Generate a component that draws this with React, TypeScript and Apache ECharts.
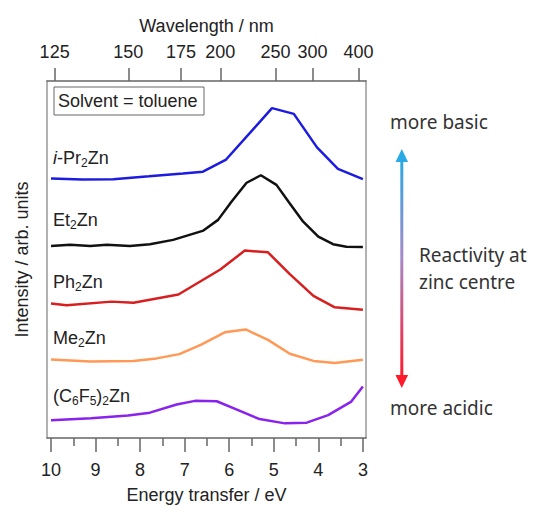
import React, { useEffect, useRef } from "react";
import * as echarts from "echarts";

const HC = 1239.84;
const energyTicks = [3, 4, 5, 6, 7, 8, 9, 10];
const energyMinorTicks = [3.5, 4.5, 5.5, 6.5, 7.5, 8.5, 9.5];
const wavelengthTicks = [125, 150, 175, 200, 250, 300, 400];

// i-Pr2Zn
const iPrE = [10.0, 9.3, 8.6, 7.8, 7.04, 6.59, 6.07, 5.04, 4.55, 4.03, 3.56, 3.0];
const iPrI = [7.27, 7.24, 7.25, 7.33, 7.41, 7.46, 7.8, 9.24, 9.08, 8.14, 7.54, 7.25];
// Et2Zn
const etE = [10.0, 9.57, 9.12, 8.75, 8.23, 7.78, 7.26, 6.58, 6.25, 5.95, 5.61, 5.29, 4.94, 4.64, 4.34, 4.0, 3.67, 3.37, 3.0];
const etI = [5.38, 5.41, 5.38, 5.41, 5.38, 5.43, 5.55, 5.81, 6.11, 6.62, 7.15, 7.36, 7.09, 6.57, 6.06, 5.64, 5.43, 5.36, 5.35];
// Ph2Zn
const phE = [10.0, 9.65, 8.64, 8.15, 7.14, 6.2, 5.65, 5.13, 4.64, 4.11, 3.63, 3.0];
const phI = [3.77, 3.72, 3.82, 3.79, 4.02, 4.72, 5.25, 5.2, 4.59, 3.98, 3.66, 3.59];
// Me2Zn
const meE = [10.0, 9.12, 8.15, 7.63, 7.12, 6.64, 6.1, 5.63, 5.13, 4.64, 4.11, 3.63, 3.0];
const meI = [2.2, 2.14, 2.16, 2.23, 2.35, 2.61, 2.96, 3.04, 2.75, 2.36, 2.16, 2.1, 2.19];
// (C6F5)2Zn
const cfE = [10.0, 9.1, 8.27, 7.78, 7.18, 6.77, 6.28, 5.8, 5.32, 4.75, 4.26, 3.78, 3.26, 3.0];
const cfI = [0.5, 0.55, 0.63, 0.71, 0.94, 1.04, 1.03, 0.78, 0.53, 0.41, 0.43, 0.64, 1.02, 1.44];

const seriesNames = ["i-Pr2Zn", "Et2Zn", "Ph2Zn", "Me2Zn", "(C6F5)2Zn"];
const seriesLabels = [
  "{it|i}-Pr{sub|2}Zn",
  "Et{sub|2}Zn",
  "Ph{sub|2}Zn",
  "Me{sub|2}Zn",
  "(C{sub|6}F{sub|5}){sub|2}Zn",
];
const seriesColors = ["#1c1ce0", "#111111", "#d81e1e", "#ff9955", "#8a22ee"];
const seriesE = [iPrE, etE, phE, meE, cfE];
const seriesI = [iPrI, etI, phI, meI, cfI];

const FONT = "'Liberation Sans', Arial, Helvetica, sans-serif";
const FONT2 = "'Noto Sans', 'Open Sans', sans-serif";

export default function App() {
  const ref = useRef<HTMLDivElement>(null);

  useEffect(() => {
    if (!ref.current) return;
    const chart = echarts.init(ref.current, undefined, { renderer: "svg" });

    const axisGray = "#666";
    const frameGray = "#999";
    const xRange = { min: 2.93, max: 10.09, inverse: true };

    const labelY = [158, 220, 282, 338, 396];

    const option: any = {
      animation: false,
      backgroundColor: "#fff",
      grid: { left: 47, top: 81, width: 319, height: 357, containLabel: false, outerBoundsMode: "none" },
      xAxis: [
        {
          type: "value",
          position: "bottom",
          ...xRange,
          axisLine: { show: true, onZero: false, lineStyle: { color: axisGray, width: 1.5 } },
          axisTick: { show: true, length: 14, customValues: energyTicks, lineStyle: { color: axisGray, width: 1.5 } },
          axisLabel: {
            customValues: energyTicks,
            margin: 23,
            fontSize: 18,
            color: "#222",
            fontFamily: FONT,
            formatter: (v: number) => String(Math.round(v)),
          },
          splitLine: { show: false },
          name: "Energy transfer / eV",
          nameLocation: "middle",
          nameGap: 48,
          nameTextStyle: { fontSize: 18, color: "#222", fontFamily: FONT },
        },
        {
          type: "value",
          position: "bottom",
          ...xRange,
          axisLine: { show: false, onZero: false },
          axisTick: { show: true, length: 8, customValues: energyMinorTicks, lineStyle: { color: axisGray, width: 1.5 } },
          axisLabel: { show: false },
          splitLine: { show: false },
        },
        {
          type: "value",
          position: "top",
          ...xRange,
          axisLine: { show: true, onZero: false, lineStyle: { color: axisGray, width: 1.5 } },
          axisTick: {
            show: true,
            length: 13,
            customValues: wavelengthTicks.map((w) => HC / w),
            lineStyle: { color: axisGray, width: 1.5 },
          },
          axisLabel: {
            customValues: wavelengthTicks.map((w) => HC / w),
            margin: 20,
            fontSize: 18,
            color: "#222",
            fontFamily: FONT,
            formatter: (v: number) => String(Math.round(HC / v)),
          },
          splitLine: { show: false },
          name: "Wavelength / nm",
          nameLocation: "middle",
          nameGap: 46,
          nameTextStyle: { fontSize: 18, color: "#222", fontFamily: FONT },
        },
      ],
      yAxis: [
        {
          type: "value",
          position: "left",
          min: 0,
          max: 10,
          axisLine: { show: true, onZero: false, lineStyle: { color: frameGray, width: 1.5 } },
          axisTick: { show: false },
          axisLabel: { show: false },
          splitLine: { show: false },
          name: "Intensity / arb. units",
          nameLocation: "middle",
          nameRotate: 90,
          nameGap: 16,
          nameTextStyle: { fontSize: 18, color: "#222", fontFamily: FONT },
        },
        {
          type: "value",
          position: "right",
          min: 0,
          max: 10,
          axisLine: { show: true, onZero: false, lineStyle: { color: frameGray, width: 1.5 } },
          axisTick: { show: false },
          axisLabel: { show: false },
          splitLine: { show: false },
        },
      ],
      series: seriesNames.map((name, i) => ({
        name,
        type: "line",
        xAxisIndex: 0,
        yAxisIndex: 0,
        symbol: "none",
        showSymbol: false,
        lineStyle: { color: seriesColors[i], width: 2.5 },
        itemStyle: { color: seriesColors[i] },
        data: seriesE[i].map((e, k) => [e, seriesI[i][k]]),
      })),
      graphic: [
        {
          type: "rect",
          shape: { x: 54, y: 87, width: 150, height: 28 },
          style: { fill: "#fff", stroke: "#666", lineWidth: 1 },
        },
        {
          type: "text",
          x: 58,
          y: 101,
          style: { text: "Solvent = toluene", fontSize: 18, fontFamily: FONT, fill: "#222", verticalAlign: "middle", align: "left" },
        },
        ...seriesLabels.map((t, i) => ({
          type: "text",
          x: 53,
          y: labelY[i],
          style: {
            text: t,
            fontSize: 18,
            lineHeight: 22,
            fontFamily: FONT,
            fill: "#222",
            verticalAlign: "middle",
            align: "left",
            rich: {
              sub: { fontSize: 12, lineHeight: 12, verticalAlign: "bottom", fontFamily: FONT, fill: "#222" },
              it: { fontStyle: "italic", fontSize: 18, lineHeight: 22, fontFamily: FONT, fill: "#222" },
            },
          },
        })),
        {
          type: "rect",
          shape: { x: 400.3, y: 160, width: 3, height: 217 },
          style: {
            fill: new echarts.graphic.LinearGradient(0, 0, 0, 1, [
              { offset: 0, color: "#29a9e5" },
              { offset: 0.45, color: "#a58ac8" },
              { offset: 1, color: "#ff1a2b" },
            ]),
          },
        },
        {
          type: "polygon",
          shape: { points: [[401.8, 149], [395.5, 162], [408.1, 162]] },
          style: { fill: "#29a9e5" },
        },
        {
          type: "polygon",
          shape: { points: [[401.8, 388], [395.5, 375], [408.1, 375]] },
          style: { fill: "#ff1a2b" },
        },
        {
          type: "text",
          x: 390,
          y: 122,
          style: { text: "more basic", fontSize: 19, fontFamily: FONT2, fill: "#333", verticalAlign: "middle", align: "left" },
        },
        {
          type: "text",
          x: 390,
          y: 408,
          style: { text: "more acidic", fontSize: 19, fontFamily: FONT2, fill: "#333", verticalAlign: "middle", align: "left" },
        },
        {
          type: "text",
          x: 419,
          y: 255,
          style: { text: "Reactivity at", fontSize: 19, fontFamily: FONT2, fill: "#333", verticalAlign: "middle", align: "left" },
        },
        {
          type: "text",
          x: 419,
          y: 282,
          style: { text: "zinc centre", fontSize: 19, fontFamily: FONT2, fill: "#333", verticalAlign: "middle", align: "left" },
        },
      ],
    };

    chart.setOption(option);
    return () => chart.dispose();
  }, []);

  return (
    <div
      ref={ref}
      style={{ position: "fixed", left: 0, top: 0, width: 534, height: 506, background: "#fff" }}
    />
  );
}
